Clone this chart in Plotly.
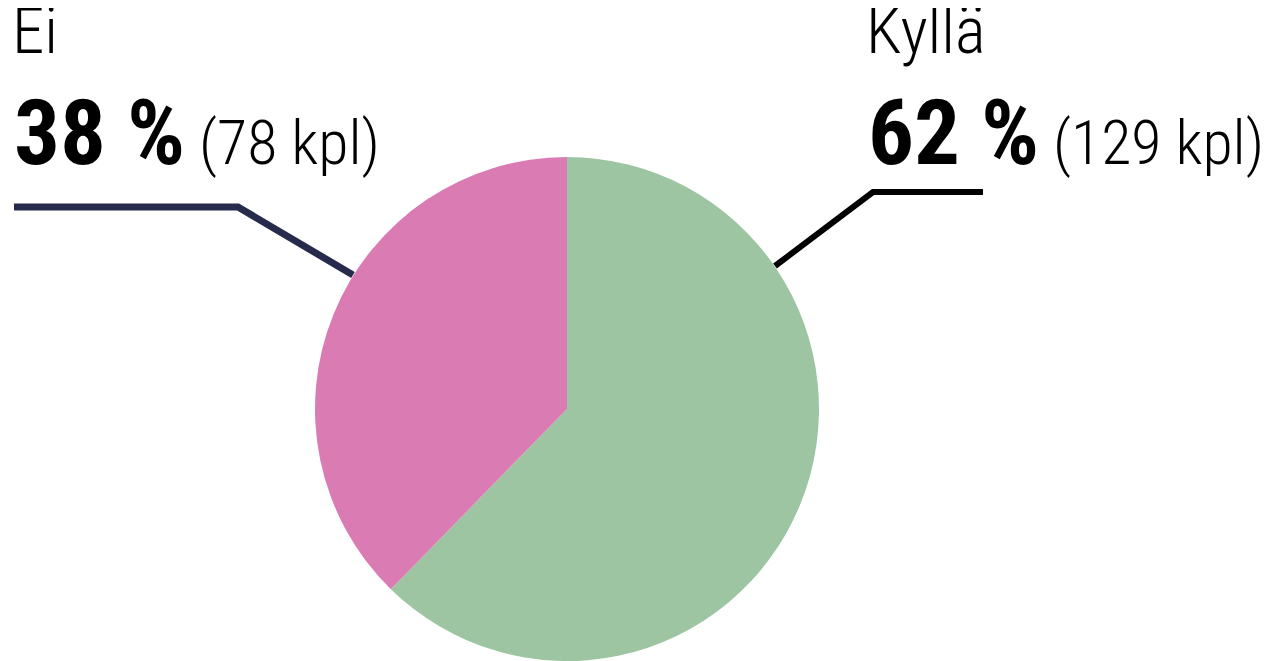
import plotly.graph_objects as go

# Data
labels = ["Kyllä", "Ei"]
counts = [129, 78]
colors = ["#9dc5a2", "#db7bb4"]

W, H = 1274, 661
OFF = 8  # sivun body-marginaali
FONT = "Roboto Condensed, Liberation Sans Narrow, Roboto, sans-serif"


def px(x, y):
    # sivun pikselit -> paper-koordinaatit
    return (x - OFF) / W, 1 - (y - OFF) / H


total = sum(counts)
pct = [round(c / total * 100) for c in counts]

fig = go.Figure()

x0p, y0p = px(315, 661)
x1p, y1p = px(819, 157)
fig.add_trace(go.Pie(
    labels=labels,
    values=counts,
    sort=False,
    direction="clockwise",
    rotation=0,
    marker=dict(colors=colors, line=dict(width=0)),
    textinfo="none",
    hoverinfo="label+value+percent",
    showlegend=False,
    domain=dict(x=[x0p, x1p], y=[y0p, y1p]),
))

# Tekstit
label_x = {"Ei": 14, "Kyllä": 868}
for lab, c, p in zip(labels, counts, pct):
    x0 = label_x[lab]
    ax, ay = px(x0 - 4, -9)
    fig.add_annotation(
        x=ax, y=ay, xref="paper", yref="paper",
        xanchor="left", yanchor="top", showarrow=False,
        text=lab, font=dict(family=FONT, size=65, color="#000000", weight=300),
    )
    bx, by = px(x0 - 2, 78)
    fig.add_annotation(
        x=bx, y=by, xref="paper", yref="paper",
        xanchor="left", yanchor="top", showarrow=False,
        text=f"<b>{p} %</b><span style='font-size:62px'> ({c} kpl)</span>",
        font=dict(family=FONT, size=91, color="#000000", weight=300),
    )

# Viivat
def path(points):
    s = ""
    for i, (x, y) in enumerate(points):
        xp, yp = px(x, y)
        s += ("M" if i == 0 else "L") + f"{xp},{yp} "
    return s

fig.add_shape(type="path", xref="paper", yref="paper",
              path=path([(14, 207), (238, 207), (353, 275)]),
              line=dict(color="#262a4b", width=7))
fig.add_shape(type="path", xref="paper", yref="paper",
              path=path([(983, 192), (873, 192), (775, 266)]),
              line=dict(color="#000000", width=6))

fig.update_layout(
    width=W, height=H,
    margin=dict(l=0, r=0, t=0, b=0),
    paper_bgcolor="white",
    plot_bgcolor="white",
)

fig.write_html("out.html")
